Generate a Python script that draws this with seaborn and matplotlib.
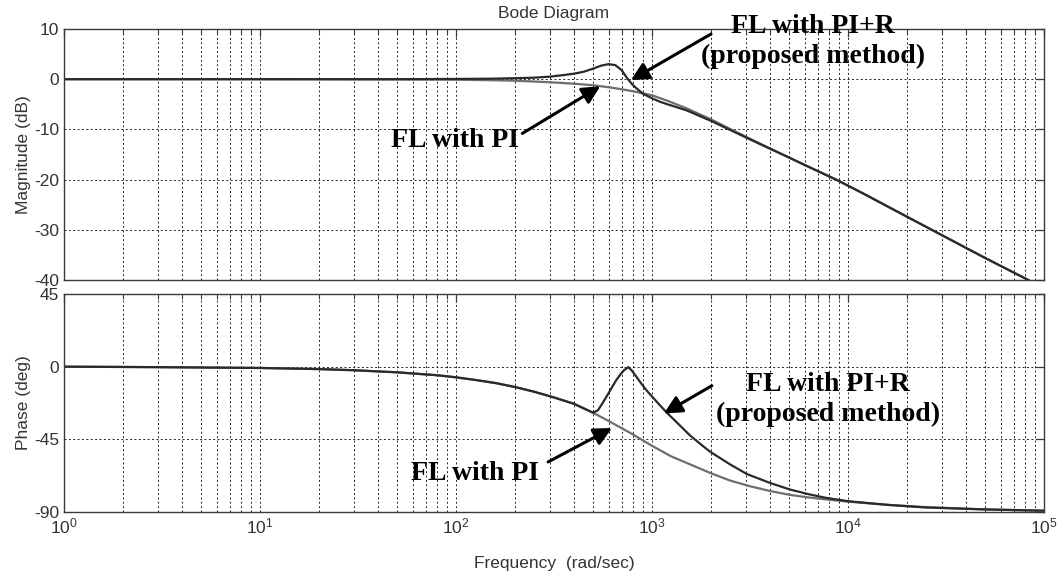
import numpy as np
import pandas as pd
import matplotlib
matplotlib.use("Agg")
import matplotlib.pyplot as plt
import seaborn as sns
from matplotlib.ticker import LogLocator, NullFormatter

# ---------------- data ----------------
freq_mag_pi = [1, 10, 50, 100, 150, 200, 300, 400, 500, 600, 700, 800, 1000, 1200,
               1500, 2000, 2500, 3500, 5000, 7000, 8700, 12000, 20000, 50000, 100000]
mag_pi = [0, 0, -0.05, -0.1, -0.2, -0.3, -0.6, -0.9, -1.2, -1.6, -2.0, -2.4, -3.2, -4.3,
          -5.8, -8.0, -9.9, -12.7, -15.6, -18.3, -20.0, -22.8, -27.4, -35.6, -41.6]

freq_mag_pir = [1, 10, 50, 100, 150, 200, 250, 300, 350, 400, 450, 500, 550, 600, 650,
                700, 750, 800, 850, 900, 1000, 1100, 1200, 1500, 2000, 2500, 3500, 5000,
                7000, 8700, 12000, 20000, 50000, 100000]
mag_pir = [0, 0, 0, 0.05, 0.1, 0.2, 0.3, 0.5, 0.8, 1.1, 1.5, 2.1, 2.7, 3.0, 2.8,
           1.8, 0.1, -1.2, -2.1, -2.9, -3.8, -4.5, -5.0, -6.2, -8.3, -10.1, -12.8, -15.6,
           -18.3, -20.0, -22.8, -27.4, -35.6, -41.6]

freq_ph_pi = [1, 3, 10, 20, 30, 50, 80, 100, 125, 160, 200, 250, 315, 400, 500, 630,
              800, 1000, 1250, 1600, 2000, 2500, 3150, 4000, 5000, 6300, 8000, 10000,
              16000, 25000, 50000, 100000]
ph_pi = [0, -0.3, -0.8, -1.5, -2.2, -3.5, -5.3, -6.6, -8.2, -10.2, -12.6, -15.5, -19.0,
         -23.0, -28.5, -35.0, -42.0, -49.0, -55.5, -61.0, -66.0, -70.5, -74.0, -77.0,
         -79.3, -81.0, -82.4, -83.6, -85.6, -87.0, -88.4, -89.2]

freq_ph_pir = [1, 3, 10, 20, 30, 50, 80, 100, 125, 160, 200, 250, 315, 400, 500, 530,
               560, 600, 630, 660, 690, 720, 757, 790, 830, 870, 935, 1000, 1100, 1190,
               1300, 1390, 1560, 1770, 1970, 2500, 3050, 4000, 5030, 6300, 7700, 10000,
               16000, 25000, 50000, 100000]
ph_pir = [0, -0.3, -0.8, -1.5, -2.2, -3.5, -5.3, -6.6, -8.2, -10.2, -12.6, -15.5, -19.0,
          -23.0, -28.5, -27.0, -22.5, -16.5, -12.0, -8.0, -4.8, -2.2, -0.3, -2.5, -6.0,
          -9.5, -14.5, -18.5, -24.0, -28.5, -33.0, -36.5, -42.5, -48.0, -52.5, -60.5,
          -66.5, -72.0, -76.0, -79.0, -81.2, -83.3, -85.6, -87.2, -88.4, -89.2]

mag_ticks = [10, 0, -10, -20, -30, -40]
phase_ticks = [45, 0, -45, -90]
title = "Bode Diagram"
label_pir = "FL with PI+R\n(proposed method)"
label_pi = "FL with PI"

# ---------------- style ----------------
sns.set_theme(style="white")
plt.rcParams["font.family"] = ["Liberation Sans", "DejaVu Sans"]
plt.rcParams["mathtext.fontset"] = "custom"
plt.rcParams["mathtext.rm"] = "Liberation Sans"
plt.rcParams["mathtext.it"] = "Liberation Sans"
plt.rcParams["axes.unicode_minus"] = False

axis_col = "#3a3a3a"
text_col = "#333333"
c_pir = "#2a2a2a"
c_pi = "#6e6e6e"

fig = plt.figure(figsize=(10.6, 5.76), dpi=100)
ax1 = fig.add_axes([64 / 1060, 1 - 280 / 576, (1044 - 64) / 1060, (280 - 29) / 576])
ax2 = fig.add_axes([64 / 1060, 1 - 512 / 576, (1044 - 64) / 1060, (512 - 294) / 576])

df_mag_pi = pd.DataFrame({"f": freq_mag_pi, "v": mag_pi})
df_mag_pir = pd.DataFrame({"f": freq_mag_pir, "v": mag_pir})
df_ph_pi = pd.DataFrame({"f": freq_ph_pi, "v": ph_pi})
df_ph_pir = pd.DataFrame({"f": freq_ph_pir, "v": ph_pir})

line_kw = dict(lw=1.6, estimator=None, sort=False)
sns.lineplot(data=df_mag_pi, x="f", y="v", ax=ax1, color=c_pi, **line_kw)
sns.lineplot(data=df_mag_pir, x="f", y="v", ax=ax1, color=c_pir, **line_kw)
sns.lineplot(data=df_ph_pi, x="f", y="v", ax=ax2, color=c_pi, **line_kw)
sns.lineplot(data=df_ph_pir, x="f", y="v", ax=ax2, color=c_pir, **line_kw)

grid_kw = dict(color="#222222", linestyle=(0, (2, 2.5)), linewidth=0.7)
for ax, lim, ticks in [(ax1, (-40, 10), mag_ticks), (ax2, (-90, 45), phase_ticks)]:
    ax.set_xscale("log")
    ax.set_xlim(1, 1e5)
    ax.set_ylim(*lim)
    ax.set_yticks(ticks)
    ax.xaxis.set_major_locator(LogLocator(base=10, numticks=10))
    ax.xaxis.set_minor_locator(LogLocator(base=10, subs=np.arange(2, 10), numticks=100))
    ax.xaxis.set_minor_formatter(NullFormatter())
    ax.grid(True, which="major", axis="both", **grid_kw)
    ax.grid(True, which="minor", axis="x", **grid_kw)
    ax.set_axisbelow(True)
    ax.tick_params(which="both", direction="in", top=True, right=True, colors=axis_col,
                   labelcolor=text_col, labelsize=12.5)
    ax.tick_params(which="major", length=6, width=0.9)
    ax.tick_params(which="minor", length=3.5, width=0.8)
    for s in ax.spines.values():
        s.set_color(axis_col)
        s.set_linewidth(1.0)
    ax.set_xlabel("")

ax1.tick_params(labelbottom=False)
ax1.set_ylabel("Magnitude (dB)", fontsize=12.5, color=text_col, labelpad=2)
ax2.set_ylabel("Phase (deg)", fontsize=12.5, color=text_col, labelpad=2)
ax2.set_xlabel("Frequency  (rad/sec)", fontsize=12.5, color=text_col, labelpad=14)
ax1.set_title(title, fontsize=12.5, color=text_col, pad=8)

# ---------------- annotations ----------------
ann_font = dict(family=["Liberation Serif", "DejaVu Serif"], weight="bold", fontsize=20,
                color="black", linespacing=1.25)
arrow_kw = dict(arrowstyle="-|>,head_length=0.9,head_width=0.45", color="black", lw=2.2,
                shrinkA=0, shrinkB=0)

ax1.text(6600, 7.6, label_pir, ha="center", va="center", clip_on=False, **ann_font)
ax1.annotate("", xy=(780, -0.2), xytext=(2000, 9.0), arrowprops=arrow_kw, annotation_clip=False)
ax1.text(99, -12.2, label_pi, ha="center", va="center", **ann_font)
ax1.annotate("", xy=(545, -1.4), xytext=(218, -10.8), arrowprops=arrow_kw)

ax2.text(7900, -20.5, label_pir, ha="center", va="center", **ann_font)
ax2.annotate("", xy=(1150, -29), xytext=(2020, -11.8), arrowprops=arrow_kw)
ax2.text(125, -66, label_pi, ha="center", va="center", **ann_font)
ax2.annotate("", xy=(625, -38), xytext=(295, -59), arrowprops=arrow_kw)

fig.savefig("out.png", dpi=100, facecolor="white")
